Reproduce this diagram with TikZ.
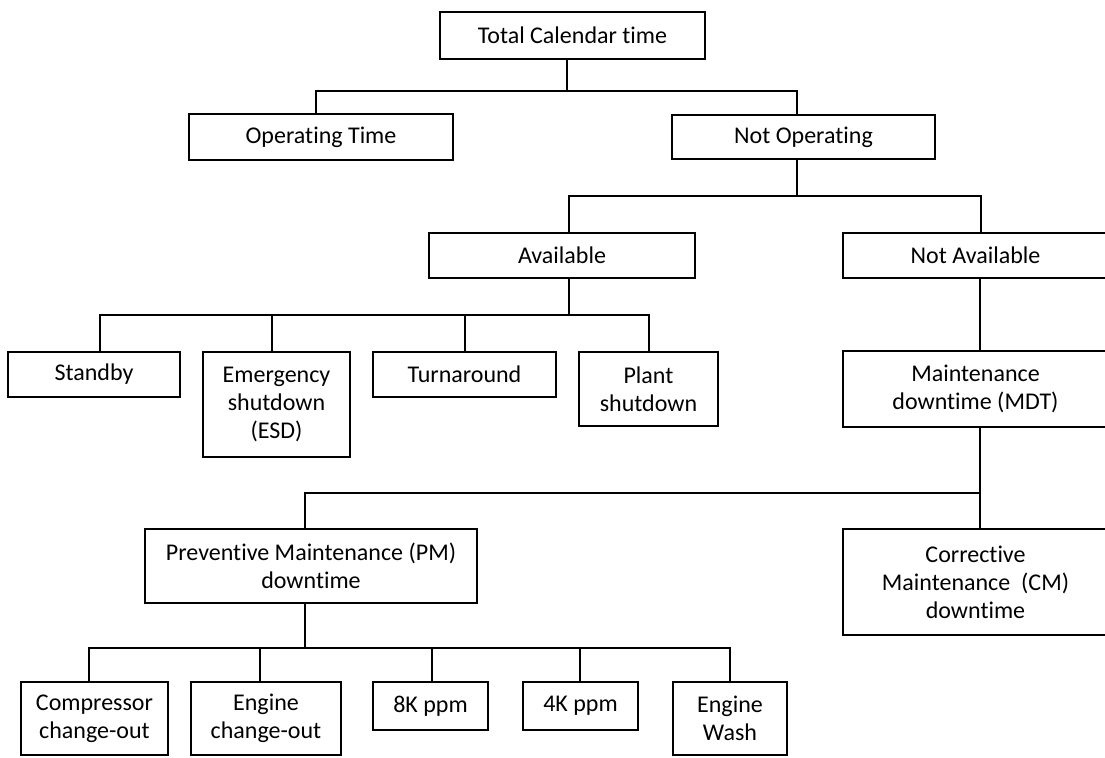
\documentclass[tikz,border=0pt]{standalone}
\usepackage{fontspec}
\setmainfont{Carlito}[Ligatures=NoCommon]
\begin{document}
\begin{tikzpicture}[x=0.5pt,y=-0.5pt,
  box/.style={draw, line width=0.9pt, inner sep=0pt, outer sep=0pt,
    align=center, font=\fontsize{12}{14}\selectfont},
  link/.style={line width=0.6pt}]
\useasboundingbox (0,0) rectangle (1105,758);
% box from its corners (x1,y1)-(x2,y2): name, x1, y1, x2, y2, text
\newcommand\treebox[6]{%
  \node[box, minimum width={(#4-#2)*0.5pt}, minimum height={(#5-#3)*0.5pt}]
    (#1) at ({(#2+#4)/2},{(#3+#5)/2}) {#6};}

% level 0 and 1
\treebox{tct}{440}{12}{705}{59}{Total Calendar time}
\treebox{op}{189}{114}{453}{160}{Operating Time}
\treebox{nop}{672}{115}{935}{159}{Not Operating}
% level 2
\treebox{av}{429}{233}{695}{278}{Available}
\treebox{nav}{843}{233}{1108}{278}{Not Available}
% level 3
\treebox{sb}{8}{352}{180}{397}{Standby}
\treebox{esd}{203}{352}{350}{457}{Emergency\\shutdown\\(ESD)}
\treebox{ta}{373}{352}{556}{397}{Turnaround}
\treebox{ps}{579}{352}{718}{426}{Plant\\shutdown}
\treebox{mdt}{843}{351}{1108}{427}{Maintenance\\downtime (MDT)}
% level 4
\treebox{pm}{145}{529}{477}{603}{Preventive Maintenance (PM)\\downtime}
\treebox{cm}{843}{529}{1108}{635}{Corrective\\Maintenance\ \ (CM)\\downtime}
% level 5
\treebox{cco}{21}{682}{168}{755}{Compressor\\change-out}
\treebox{eco}{191}{682}{341}{755}{Engine\\change-out}
\treebox{ks}{373}{682}{488}{730}{8K ppm}
\treebox{kf}{523}{682}{638}{730}{4K ppm}
\treebox{ew}{673}{682}{787}{755}{Engine\\Wash}

% bus junctions
\coordinate (j0) at (567,91);
\coordinate (j1) at (797,196);
\coordinate (j2) at (569,315);
\coordinate (j3) at (980,493);
\coordinate (j4) at (305,648);

\begin{scope}[link]
  \draw (tct.south -| j0) -- (j0) -| (op.north -| 316,0);
  \draw (j0) -| (nop.north -| j1);
  \draw (nop.south -| j1) -- (j1) -| (av.north -| j2);
  \draw (j1) -| (nav.north -| 981,0);
  \draw (av.south -| j2) -- (j2) -| (sb.north -| 100,0);
  \draw (j2 -| 272,0) -- (esd.north -| 272,0);
  \draw (j2 -| 465,0) -- (ta.north -| 465,0);
  \draw (j2) -| (ps.north -| 649,0);
  \draw (nav.south -| j3) -- (mdt.north -| j3);
  \draw (mdt.south -| j3) -- (cm.north -| j3);
  \draw (j3) -| (pm.north -| j4);
  \draw (pm.south -| j4) -- (j4) -| (cco.north -| 89,0);
  \draw (j4 -| 260,0) -- (eco.north -| 260,0);
  \draw (j4 -| 432,0) -- (ks.north -| 432,0);
  \draw (j4 -| 580,0) -- (kf.north -| 580,0);
  \draw (j4) -| (ew.north -| 730,0);
\end{scope}
\end{tikzpicture}
\end{document}
